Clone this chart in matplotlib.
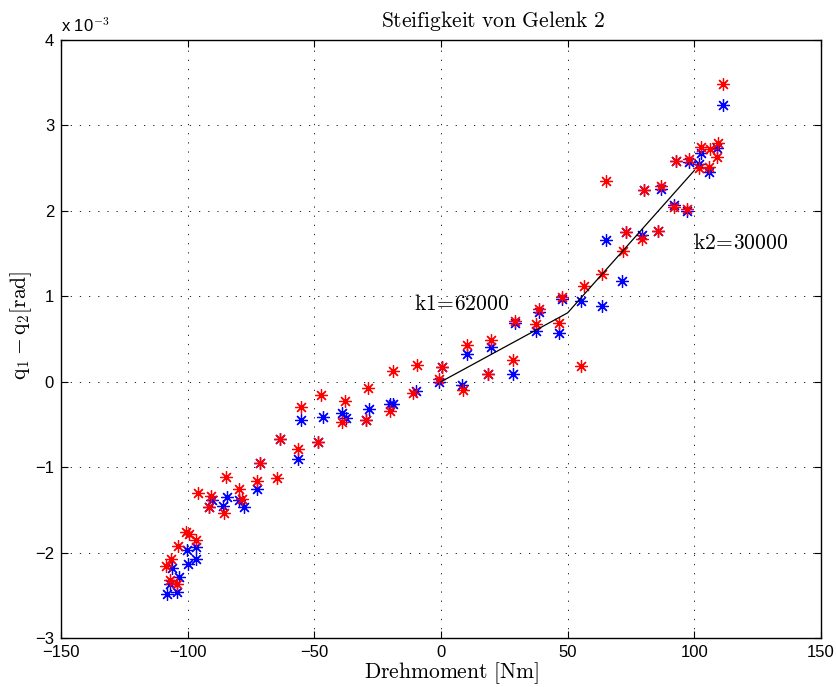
import numpy as np
import matplotlib
matplotlib.use('Agg')
import matplotlib.pyplot as plt

plt.rcParams['font.family'] = ['Liberation Sans', 'DejaVu Sans']
plt.rcParams['mathtext.fontset'] = 'cm'

# Messung 1 (rot): Drehmoment [Nm], Verdrehung [1e-3 rad]
tau_rot = [-108.6, -106.6, -107.0, -104.2, -103.8, -100.7, -99.5, -96.7, -95.9, -90.8,
           -91.6, -85.7, -84.9, -79.7, -78.6, -72.6, -71.5, -64.7, -63.6, -56.5,
           -55.3, -48.5, -47.4, -37.9, -39.1, -28.8, -29.6, -20.1, -19.0, -9.5,
           -11.1, 0.4, -0.8, 8.7, 10.3, 18.6, 19.7, 28.4, 29.2, 37.5,
           38.7, 46.6, 47.8, 55.3, 56.5, 63.6, 65.1, 71.9, 73.0, 79.4,
           80.1, 85.7, 86.9, 92.0, 92.8, 97.1, 97.9, 101.9, 102.6, 105.8,
           106.2, 109.0, 109.4, 111.3]
q_rot = [-2.16, -2.08, -2.32, -2.37, -1.92, -1.76, -1.78, -1.85, -1.30, -1.34,
         -1.47, -1.54, -1.12, -1.26, -1.37, -1.16, -0.95, -1.13, -0.67, -0.79,
         -0.30, -0.71, -0.16, -0.23, -0.47, -0.07, -0.45, -0.34, 0.12, 0.19,
         -0.13, 0.17, 0.03, -0.10, 0.43, 0.09, 0.49, 0.25, 0.71, 0.68,
         0.85, 0.69, 0.99, 0.18, 1.12, 1.26, 2.35, 1.53, 1.75, 1.67,
         2.24, 1.76, 2.29, 2.04, 2.58, 2.02, 2.61, 2.50, 2.75, 2.51,
         2.72, 2.63, 2.79, 3.49]

# Messung 2 (blau)
tau_blau = [-108.2, -106.2, -107.0, -104.2, -103.4, -100.3, -99.9, -96.7, -96.7, -90.4,
            -91.6, -86.1, -84.5, -79.7, -77.8, -72.6, -71.5, -63.6, -56.5, -55.3,
            -48.5, -46.6, -39.1, -37.5, -28.4, -29.6, -20.1, -19.0, -10.0, 0.4,
            -0.8, 8.3, 10.3, 18.6, 19.7, 28.4, 29.2, 37.5, 38.7, 46.6,
            47.8, 55.3, 63.6, 65.1, 71.5, 73.0, 79.4, 80.1, 85.7, 86.9,
            92.0, 92.8, 97.1, 97.9, 101.9, 102.6, 105.8, 109.0, 111.3]
q_blau = [-2.48, -2.18, -2.37, -2.46, -2.29, -1.97, -2.13, -1.93, -2.07, -1.38,
          -1.47, -1.45, -1.35, -1.38, -1.47, -1.25, -0.95, -0.67, -0.90, -0.45,
          -0.71, -0.41, -0.37, -0.42, -0.32, -0.45, -0.26, -0.26, -0.11, 0.17,
          0.00, -0.04, 0.32, 0.09, 0.41, 0.09, 0.69, 0.59, 0.82, 0.57,
          0.97, 0.94, 0.89, 1.66, 1.18, 1.75, 1.72, 2.24, 1.76, 2.25,
          2.07, 2.58, 2.00, 2.57, 2.55, 2.68, 2.45, 2.73, 3.24]

# Steifigkeiten der beiden Geradenstuecke [Nm/rad]
k1 = 62000
k2 = 30000
tau_knick = [0, 50, 100]

q_knick = [0, tau_knick[1] / k1]
q_knick.append(q_knick[1] + (tau_knick[2] - tau_knick[1]) / k2)
q_knick = [v * 1e3 for v in q_knick]

fig = plt.figure(figsize=(8.37, 6.87), dpi=100)
ax = fig.add_axes([0.0729, 0.0713, 0.908, 0.8705])

stern = (8, 2, 0)
ax.plot(tau_blau, q_blau, linestyle='none', marker=stern, color='#0000ff',
        markersize=9, markeredgewidth=0.9)
ax.plot(tau_rot, q_rot, linestyle='none', marker=stern, color='#ff0000',
        markersize=9, markeredgewidth=0.9)
ax.plot(tau_knick, q_knick, color='black', linewidth=0.9)

ax.text(-10.5, 0.9, r'$\mathrm{k1\!=\!62000}$', fontsize=15.5, va='center', ha='left')
ax.text(99.5, 1.62, r'$\mathrm{k2\!=\!30000}$', fontsize=15.5, va='center', ha='left')

ax.set_xlim(-150, 150)
ax.set_ylim(-3, 4)
ax.set_xticks(np.arange(-150, 151, 50))
ax.set_yticks(np.arange(-3, 5, 1))
ax.set_yticklabels([str(v).replace('-', '\u2212') for v in range(-3, 5)])
ax.set_xticklabels([str(v).replace('-', '\u2212') for v in range(-150, 151, 50)])
ax.tick_params(direction='in', top=True, right=True, length=5, width=0.8,
               labelsize=12, pad=5)
for s in ax.spines.values():
    s.set_linewidth(1.0)
ax.grid(True, color='black', linestyle=(0, (1.5, 9.5)), linewidth=0.6)

ax.text(0.568, 1.022, r'$\mathrm{Steifigkeit\ von\ Gelenk\ 2}$', fontsize=15.5,
        transform=ax.transAxes, ha='center', va='baseline')
ax.set_xlabel(r'$\mathrm{Drehmoment\ [Nm]}$', fontsize=15.5)
ax.xaxis.set_label_coords(0.513, -0.038)
ax.set_ylabel(r'$\mathrm{q_1 - q_2[rad]}$', fontsize=15.5)
ax.yaxis.set_label_coords(-0.036, 0.523)
ax.text(0.0, 1.008, r'x 10$^{-3}$', transform=ax.transAxes, fontsize=12,
        ha='left', va='bottom')

fig.savefig('out.png', dpi=100)
